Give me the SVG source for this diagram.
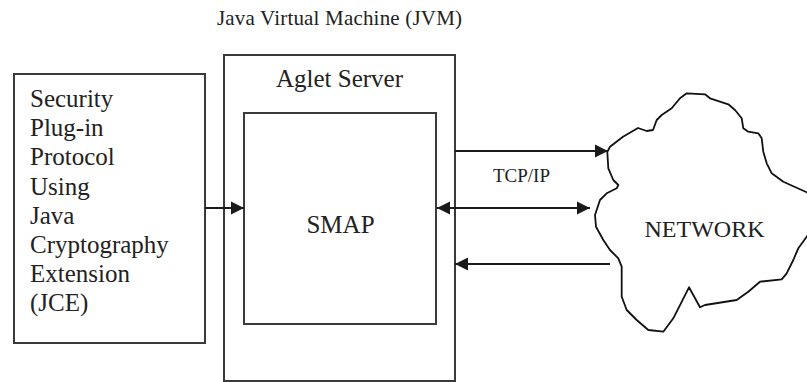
<svg xmlns="http://www.w3.org/2000/svg" width="807" height="382" viewBox="0 0 807 382">
<style>
.box{fill:#fff;stroke:#3a3a3a;stroke-width:2}
.t{font-family:"Liberation Serif","Times New Roman",serif;fill:#222}
.conn{stroke:#1a1a1a;stroke-width:2.2;fill:none}
.cloud{fill:#fff;stroke:#111;stroke-width:1.8;stroke-linejoin:round}
</style>
<defs>
<marker id="ah" markerUnits="userSpaceOnUse" markerWidth="14" markerHeight="14" refX="13" refY="7" orient="auto-start-reverse" viewBox="0 0 14 14">
<path d="M0,0.5 L13,7 L0,13.5 z" fill="#1a1a1a"/>
</marker>
</defs>
<text class="t" x="217" y="25" font-size="21" textLength="245">Java Virtual Machine (JVM)</text>
<g id="security">
<rect class="box" x="14" y="74" width="191" height="269"/>
<text class="t" font-size="25" x="30">
<tspan x="30" y="107">Security</tspan>
<tspan x="30" y="136.2">Plug-in</tspan>
<tspan x="30" y="165.4">Protocol</tspan>
<tspan x="30" y="194.6">Using</tspan>
<tspan x="30" y="223.8">Java</tspan>
<tspan x="30" y="253">Cryptography</tspan>
<tspan x="30" y="282.2">Extension</tspan>
<tspan x="30" y="311.4">(JCE)</tspan>
</text>
</g>
<g id="aglet">
<rect class="box" x="224" y="55" width="231" height="326"/>
<text class="t" font-size="25" x="339.5" y="87" text-anchor="middle">Aglet Server</text>
</g>
<g id="smap">
<rect class="box" x="244" y="113" width="192" height="211"/>
<text class="t" font-size="25" x="340.5" y="233" text-anchor="middle">SMAP</text>
</g>
<g id="network">
<path class="cloud" d="M608.3,150 L610,146.7 L623,136.7 L638,128 L646.7,131 L653,130 L656.7,120 L661.7,115 L671.7,108.3 L680,98.3 L686.7,93.3 L705,94.3 L710,98.3 L728.3,104.3 L735,110 L741.7,118.3 L743.3,128.3 L748.3,131.7 L758.3,133.3 L761.7,138.3 L763.3,151.7 L766.7,163.3 L771.7,173.3 L783.3,181.7 L806.7,192.3 L815,196 L815,225 L806.7,236.7 L798.3,248.3 L793.3,260 L786.7,273.3 L781.7,279.3 L760,281.7 L748.3,291.7 L736.7,300 L705,305 L700,307.3 L689,287.3 L673.3,318.3 L663.3,331.7 L648.3,330 L636.7,320 L626.7,310 L621.7,296.7 L621.7,266.7 L618.3,258.3 L610,250 L603.3,240 L596,226.7 L595,215 L600,200 L606.7,193.3 L616.7,188.3 L618.3,185 L613.3,180 L608.3,168.3 L607.3,151.7 Z"/>
<text class="t" font-size="24" x="704.5" y="237" text-anchor="middle">NETWORK</text>
</g>
<g id="connectors">
<line class="conn" x1="205" y1="208" x2="244" y2="208" marker-end="url(#ah)"/>
<line class="conn" x1="455" y1="151" x2="608" y2="151" marker-end="url(#ah)"/>
<line class="conn" x1="437" y1="208" x2="590" y2="208" marker-start="url(#ah)" marker-end="url(#ah)"/>
<line class="conn" x1="610" y1="264" x2="455" y2="264" marker-end="url(#ah)"/>
<text class="t" font-size="19" x="521.5" y="182" text-anchor="middle">TCP/IP</text>
</g>
</svg>
